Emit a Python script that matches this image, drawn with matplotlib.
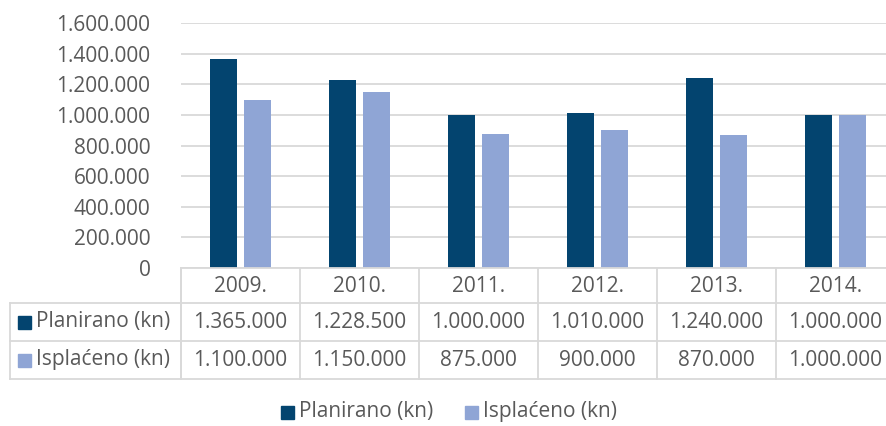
import matplotlib
matplotlib.use("Agg")
import matplotlib.pyplot as plt
from matplotlib.lines import Line2D
from matplotlib.patches import Rectangle
from matplotlib.transforms import blended_transform_factory
import numpy as np

years = ["2009.", "2010.", "2011.", "2012.", "2013.", "2014."]
planirano = [1365000, 1228500, 1000000, 1010000, 1240000, 1000000]
isplaceno = [1100000, 1150000, 875000, 900000, 870000, 1000000]
series_names = ["Planirano (kn)", "Isplaćeno (kn)"]

DARK = "#03446F"
LIGHT = "#8FA5D5"
TXT = "#595959"
GRID = "#D9D9D9"
FS = 15

plt.rcParams["font.family"] = ["Open Sans", "DejaVu Sans"]

W, H = 886, 426
fig = plt.figure(figsize=(W / 100, H / 100), dpi=100, facecolor="white")

def fx(px): return px / W
def fy(py): return 1 - py / H

# plot area: 0 at y=268, 1.6M at y=23; categories ~119px wide starting at x=181
ax = fig.add_axes([fx(181), fy(268), fx(895) - fx(181), fy(23) - fy(268)])
x = np.arange(len(years))
bw = 0.227
ax.bar(x - 0.141, planirano, bw, color=DARK, zorder=3)
ax.bar(x + 0.141, isplaceno, bw, color=LIGHT, zorder=3)
ax.set_xlim(-0.5, len(years) - 0.5)
ax.set_ylim(0, 1600000)
ticks = np.arange(0, 1600001, 200000)
ax.set_yticks(ticks)
ax.set_yticklabels([f"{t:,.0f}".replace(",", ".") for t in ticks], color=TXT, fontsize=FS)
ax.tick_params(axis="y", length=0, pad=22)
ax.set_xticks([])
ax.grid(axis="y", color=GRID, lw=1.3, zorder=0)
for s in ax.spines.values():
    s.set_visible(False)

# data table under the plot
tr = blended_transform_factory(ax.transData, fig.transFigure)
rows_y = [268, 303, 341, 379]
def hline(x0, x1, py):
    fig.add_artist(Line2D([fx(x0), fx(x1)], [fy(py), fy(py)], color=GRID, lw=1.3))
def vline(px, y0, y1, t=fig.transFigure):
    fig.add_artist(Line2D([px, px], [fy(y0), fy(y1)], color=GRID, lw=1.3, transform=t))

hline(181, 895, 268)
for py in rows_y[1:]:
    hline(10, 895, py)
vline(fx(10), 303, 379)
vline(fx(181), 268, 379)
for i in range(len(years) + 1):
    vline(i - 0.5, 268, 379, tr)

for i, yl in enumerate(years):
    fig.text(i, fy(286), yl, transform=tr, ha="center", va="center", color=TXT, fontsize=FS)
for r, (vals, col, name) in enumerate(zip([planirano, isplaceno], [DARK, LIGHT], series_names)):
    cy = fy((rows_y[r + 1] + rows_y[r + 2]) / 2)
    fig.add_artist(Rectangle((fx(18), cy - 6.5 / H), 13 / W, 13 / H, color=col,
                             transform=fig.transFigure))
    fig.text(fx(36), cy, name, ha="left", va="center", color=TXT, fontsize=FS)
    for i, v in enumerate(vals):
        fig.text(i, cy, f"{v:,.0f}".replace(",", "."), transform=tr,
                 ha="center", va="center", color=TXT, fontsize=FS)

# legend at the bottom
for px, col, name in [(281, DARK, series_names[0]), (465, LIGHT, series_names[1])]:
    cy = fy(412)
    fig.add_artist(Rectangle((fx(px), cy - 6.5 / H), 13 / W, 13 / H, color=col,
                             transform=fig.transFigure))
    fig.text(fx(px + 18), cy, name, ha="left", va="center", color=TXT, fontsize=FS)

fig.savefig("out.png", dpi=100, facecolor="white")
